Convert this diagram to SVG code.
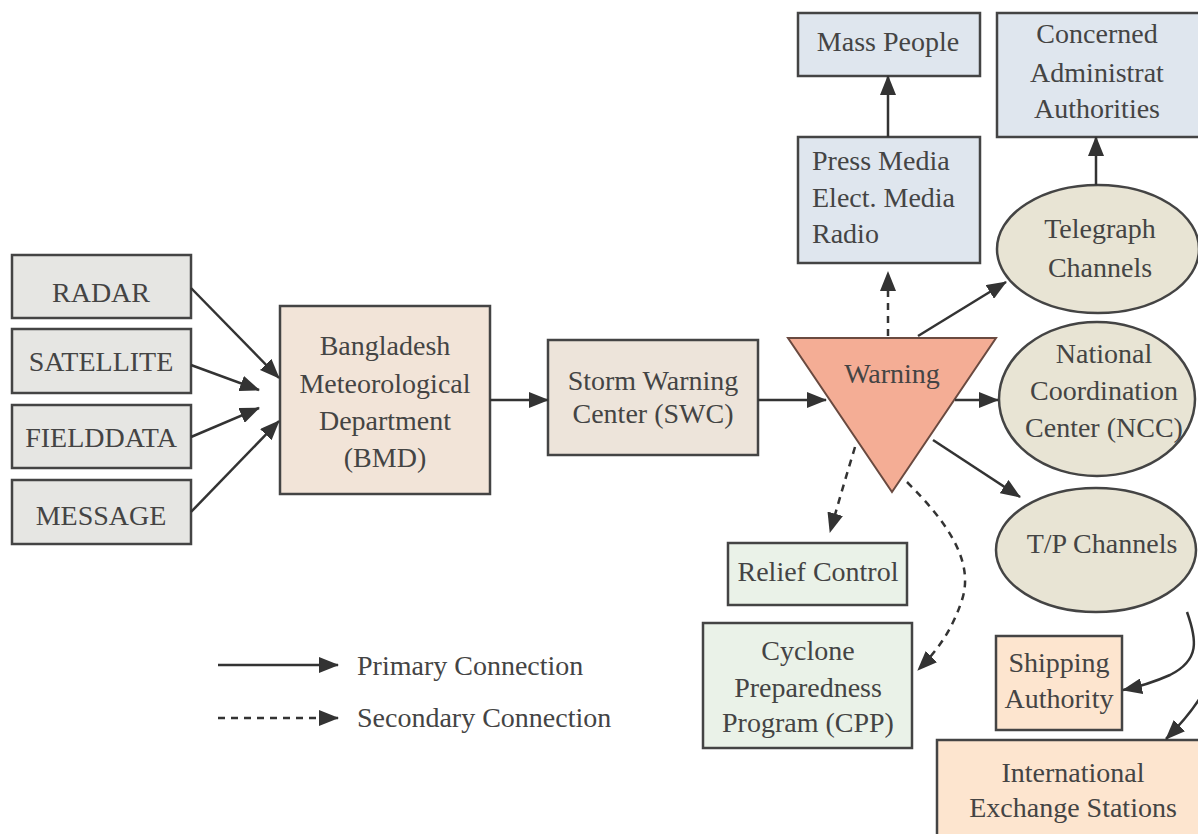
<svg xmlns="http://www.w3.org/2000/svg" width="1198" height="834" viewBox="0 0 1198 834">
<defs>
<marker id="ah" viewBox="0 0 20 16" refX="19" refY="8" markerWidth="20" markerHeight="16" markerUnits="userSpaceOnUse" orient="auto">
<path d="M0,0 L20,8 L0,16 Z" fill="#333"/>
</marker>
</defs>
<style>
text{font-family:"Liberation Serif","Times New Roman",serif;font-size:28px;fill:#444;text-anchor:middle}
.box{stroke:#444;stroke-width:2.5}
.grey{fill:#e6e6e3}
.beige{fill:#f2e4d8}
.swc{fill:#ede4da}
.tri{fill:#f4ad95;stroke:#6a4a40;stroke-width:2}
.ell{fill:#e8e4d4;stroke:#444;stroke-width:2.5}
.blue{fill:#dfe6ee}
.green{fill:#eaf2e8}
.orange{fill:#fde5cf}
.c{fill:none;stroke:#333;stroke-width:2.5;marker-end:url(#ah)}
.d{fill:none;stroke:#333;stroke-width:2.5;stroke-dasharray:7,6;marker-end:url(#ah)}
.l{text-anchor:start}
</style>
<rect width="1198" height="834" fill="#ffffff"/>
<g id="radar"><rect class="box grey" x="12" y="255" width="179" height="63"/><text x="101" y="302">RADAR</text></g>
<g id="satellite"><rect class="box grey" x="12" y="329" width="179" height="64"/><text x="101" y="371">SATELLITE</text></g>
<g id="fielddata"><rect class="box grey" x="12" y="405" width="179" height="63"/><text x="101" y="447">FIELDDATA</text></g>
<g id="message"><rect class="box grey" x="12" y="480" width="179" height="64"/><text x="101" y="525">MESSAGE</text></g>
<g id="bmd"><rect class="box beige" x="280" y="306" width="210" height="188"/>
<text x="385" y="355">Bangladesh</text><text x="385" y="393">Meteorological</text><text x="385" y="430">Department</text><text x="385" y="467">(BMD)</text></g>
<g id="swc"><rect class="box swc" x="548" y="340" width="210" height="115"/>
<text x="653" y="390">Storm Warning</text><text x="653" y="423">Center (SWC)</text></g>
<g id="warning"><polygon class="tri" points="788,338 996,338 892,492"/><text x="892" y="383">Warning</text></g>
<g id="massPeople"><rect class="box blue" x="798" y="13" width="182" height="63"/><text x="888" y="51">Mass People</text></g>
<g id="pressMedia"><rect class="box blue" x="798" y="137" width="182" height="126"/>
<text class="l" x="812" y="170">Press Media</text><text class="l" x="812" y="207">Elect. Media</text><text class="l" x="812" y="243">Radio</text></g>
<g id="concerned"><rect class="box blue" x="997" y="13" width="205" height="124"/>
<text x="1097" y="43">Concerned</text><text x="1097" y="82">Administrat</text><text x="1097" y="118">Authorities</text></g>
<g id="telegraph"><ellipse class="ell" cx="1098" cy="249" rx="101" ry="64"/>
<text x="1100" y="238">Telegraph</text><text x="1100" y="277">Channels</text></g>
<g id="ncc"><ellipse class="ell" cx="1097" cy="399" rx="98" ry="77"/>
<text x="1104" y="363">National</text><text x="1104" y="400">Coordination</text><text x="1104" y="437">Center (NCC)</text></g>
<g id="tp"><ellipse class="ell" cx="1096" cy="550" rx="100" ry="62"/><text x="1102" y="553">T/P Channels</text></g>
<g id="relief"><rect class="box green" x="728" y="543" width="179" height="62"/><text x="818" y="581">Relief Control</text></g>
<g id="cpp"><rect class="box green" x="703" y="623" width="209" height="125"/>
<text x="808" y="660">Cyclone</text><text x="808" y="697">Preparedness</text><text x="808" y="732">Program (CPP)</text></g>
<g id="shipping"><rect class="box orange" x="996" y="636" width="126" height="94"/>
<text x="1059" y="672">Shipping</text><text x="1059" y="708">Authority</text></g>
<g id="international"><rect class="box orange" x="937" y="740" width="265" height="100"/>
<text x="1073" y="782">International</text><text x="1073" y="817">Exchange Stations</text></g>
<g id="connectors">
<line class="c" x1="191" y1="288" x2="279" y2="378"/>
<line class="c" x1="191" y1="365" x2="259" y2="390"/>
<line class="c" x1="191" y1="437" x2="259" y2="408"/>
<line class="c" x1="191" y1="512" x2="279" y2="421"/>
<line class="c" x1="490" y1="400" x2="548" y2="400"/>
<line class="c" x1="758" y1="400" x2="826" y2="400"/>
<line class="c" x1="955" y1="400" x2="998" y2="400"/>
<line class="c" x1="933" y1="440" x2="1020" y2="497"/>
<line class="c" x1="918" y1="336" x2="1006" y2="282"/>
<line class="c" x1="888" y1="137" x2="888" y2="76"/>
<line class="c" x1="1096" y1="185" x2="1096" y2="137"/>
<line class="d" x1="888" y1="336" x2="888" y2="272"/>
<path class="d" d="M855,447 Q842,490 830,532"/>
<path class="d" d="M907,482 C945,520 975,560 962,600 C952,630 938,650 918,670"/>
<path class="c" d="M1187,612 C1197,640 1200,660 1170,675 C1152,683 1138,687 1123,690"/>
<path class="c" d="M1200,698 C1190,714 1178,727 1166,739"/>
</g>
<g id="legend">
<line class="c" x1="218" y1="665" x2="338" y2="665"/>
<text class="l" x="357" y="675">Primary Connection</text>
<line class="d" x1="218" y1="718" x2="338" y2="718"/>
<text class="l" x="357" y="727">Secondary Connection</text>
</g>
</svg>
